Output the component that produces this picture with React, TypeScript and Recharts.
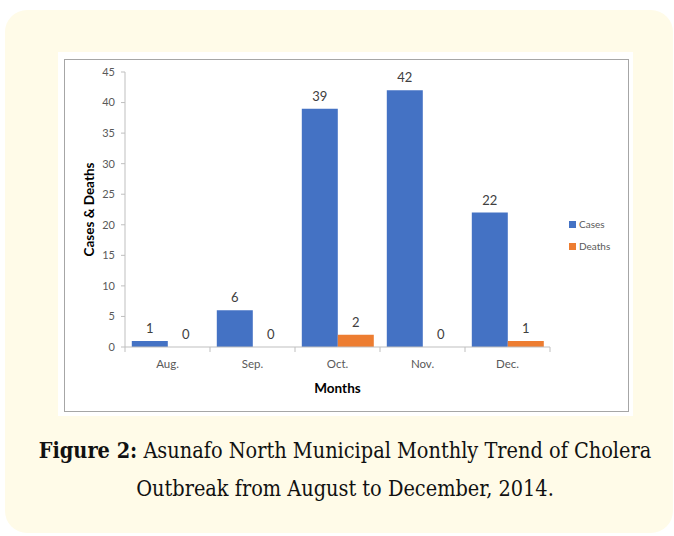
import { BarChart, Bar, XAxis, YAxis, Legend, LabelList, Label } from 'recharts';

const months = ['Aug.', 'Sep.', 'Oct.', 'Nov.', 'Dec.'];
const cases = [1, 6, 39, 42, 22];
const deaths = [0, 0, 2, 0, 1];
const yTicks = [0, 5, 10, 15, 20, 25, 30, 35, 40, 45];

const data = months.map((m, i) => ({ month: m, Cases: cases[i], Deaths: deaths[i] }));

const chartFont = 'Lato, "Open Sans", sans-serif';

// excel puts x tick marks between categories, so draw them from the band offset
const MonthTick = (props: any) => {
  const { x, y, payload, index } = props;
  const half = payload.offset || 0;
  return (
    <g>
      <line x1={x - half} y1={y - 8} x2={x - half} y2={y - 3} stroke="#bfbfbf" />
      {index === months.length - 1 && (
        <line x1={x + half} y1={y - 8} x2={x + half} y2={y - 3} stroke="#bfbfbf" />
      )}
      <text x={x} y={y + 13} textAnchor="middle" fill="#595959" fontSize={11.5} fontFamily={chartFont}>
        {payload.value}
      </text>
    </g>
  );
};

const LegendBox = (props: any) => {
  const { payload } = props;
  return (
    <div style={{ fontFamily: chartFont, fontSize: 10, color: '#595959' }}>
      {payload.map((p: any) => (
        <div key={p.value} style={{ display: 'flex', alignItems: 'center', height: 22 }}>
          <span style={{ width: 7, height: 7, background: p.color, display: 'inline-block', marginRight: 3 }} />
          {p.value}
        </div>
      ))}
    </div>
  );
};

export default function App() {
  return (
    <div style={{ position: 'absolute', left: 0, top: 0, width: 674, height: 536, background: '#fff' }}>
      <div
        style={{
          position: 'absolute',
          left: 5,
          top: 10,
          width: 668,
          height: 523,
          background: '#FFFBE8',
          borderRadius: 22,
        }}
      />
      <div style={{ position: 'absolute', left: 58, top: 52, width: 575, height: 364, background: '#fff' }} />
      <div
        style={{
          position: 'absolute',
          left: 64,
          top: 59,
          width: 563,
          height: 351,
          border: '1px solid #a6a6a6',
        }}
      >
        <BarChart
          width={563}
          height={351}
          data={data}
          margin={{ top: 12, right: 18, bottom: 0, left: 0 }}
          barCategoryGap="8%"
          barGap={0}
        >
          <XAxis
            dataKey="month"
            axisLine={{ stroke: '#bfbfbf' }}
            tickLine={false}
            tick={<MonthTick />}
            height={64}
            interval={0}
          >
            <Label
              value="Months"
              position="insideBottom"
              offset={18}
              style={{ fontFamily: chartFont, fontSize: 13.5, fontWeight: 700, fill: '#000' }}
            />
          </XAxis>
          <YAxis
            domain={[0, 45]}
            ticks={yTicks}
            interval={0}
            width={60}
            axisLine={{ stroke: '#bfbfbf' }}
            tickLine={{ stroke: '#bfbfbf' }}
            tickSize={4}
            tickMargin={6}
            tick={{ fill: '#595959', fontSize: 11, fontFamily: chartFont }}
          >
            <Label
              value="Cases & Deaths"
              angle={-90}
              position="insideLeft"
              offset={24}
              style={{ textAnchor: 'middle', fontFamily: chartFont, fontSize: 13.5, fontWeight: 700, fill: '#000' }}
            />
          </YAxis>
          <Legend
            layout="vertical"
            align="right"
            verticalAlign="middle"
            content={<LegendBox />}
            wrapperStyle={{ left: 504, top: 153, width: 60 }}
          />
          <Bar dataKey="Cases" fill="#4472C4" minPointSize={0.01} isAnimationActive={false}>
            <LabelList dataKey="Cases" position="top" offset={8} fill="#404040" fontSize={13} fontFamily={chartFont} />
          </Bar>
          <Bar dataKey="Deaths" fill="#ED7D31" minPointSize={0.01} isAnimationActive={false}>
            <LabelList dataKey="Deaths" position="top" offset={8} fill="#404040" fontSize={13} fontFamily={chartFont} />
          </Bar>
        </BarChart>
      </div>
      <div
        style={{
          position: 'absolute',
          left: 10,
          top: 432,
          width: 670,
          textAlign: 'center',
          fontFamily: '"DejaVu Serif Condensed", "DejaVu Serif", serif',
          fontStretch: 'condensed',
          fontSize: 21.5,
          lineHeight: '38px',
          color: '#111',
        }}
      >
        <b>Figure 2:</b> Asunafo North Municipal Monthly Trend of Cholera
        <br />
        Outbreak from August to December, 2014.
      </div>
    </div>
  );
}
